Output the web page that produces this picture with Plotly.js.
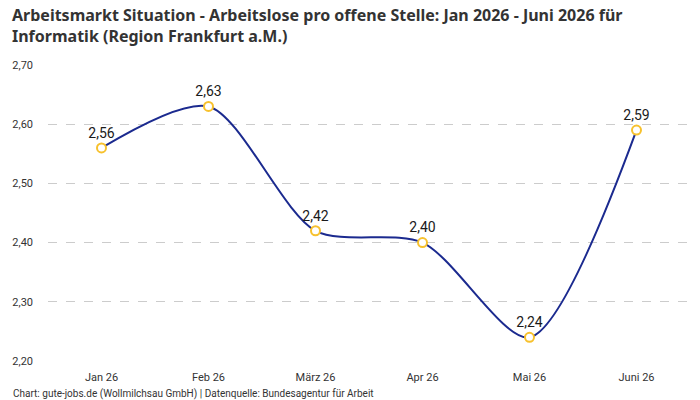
<!DOCTYPE html>
<html>
<head>
<meta charset="utf-8">
<script src="https://cdn.plot.ly/plotly-3.0.1.min.js"></script>
<style>
  html, body { margin: 0; padding: 0; background: #fff; }
  #chart { width: 700px; height: 400px; }
</style>
</head>
<body>
<div id="chart"></div>
<script>
// Monthly ratio of unemployed persons per open vacancy, IT jobs, Frankfurt region
const months = ["Jan 26", "Feb 26", "März 26", "Apr 26", "Mai 26", "Juni 26"];
const ratio = [2.56, 2.63, 2.42, 2.40, 2.24, 2.59];
const yTicks = [2.2, 2.3, 2.4, 2.5, 2.6, 2.7];

const baseFont = "Roboto, 'Noto Sans', sans-serif";
const titleText = "<b>Arbeitsmarkt Situation - Arbeitslose pro offene Stelle: Jan 2026 - Juni 2026 für<br>Informatik (Region Frankfurt a.M.)</b>";
const sourceText = "Chart: gute-jobs.de (Wollmilchsau GmbH) | Datenquelle: Bundesagentur für Arbeit";

const trace = {
  x: months,
  y: ratio,
  type: "scatter",
  mode: "lines+markers+text",
  line: { shape: "spline", smoothing: 0.8, color: "#1b2a8f", width: 2 },
  marker: { size: 9, color: "#ffffff", line: { color: "#f7c12d", width: 2 } },
  texttemplate: "%{y:.2f}",
  textposition: "top center",
  textfont: { family: baseFont, size: 14, color: "#1a1a1a" },
  cliponaxis: false,
  hoverinfo: "skip"
};

const layout = {
  width: 700,
  height: 400,
  margin: { l: 48, r: 10, t: 65, b: 39 },
  paper_bgcolor: "#ffffff",
  plot_bgcolor: "#ffffff",
  separators: ",.",
  showlegend: false,
  font: { family: baseFont, size: 11, color: "#333333" },
  xaxis: {
    type: "category",
    range: [-0.5, 5.5],
    showgrid: false,
    zeroline: false,
    showline: false,
    ticks: "",
    ticklabelstandoff: 8,
    tickfont: { family: baseFont, size: 11, color: "#333333" }
  },
  yaxis: {
    range: [2.2, 2.7],
    tickvals: yTicks,
    tickformat: ".2f",
    showgrid: true,
    gridcolor: "#cccccc",
    griddash: "dash",
    gridwidth: 1,
    zeroline: false,
    showline: false,
    ticks: "",
    ticklabelstandoff: 14,
    tickfont: { family: baseFont, size: 11, color: "#333333" }
  },
  annotations: [
    {
      text: titleText,
      xref: "paper", yref: "paper",
      x: -0.059, y: 1.212,
      xanchor: "left", yanchor: "top", align: "left",
      showarrow: false,
      font: { family: "'Noto Sans', sans-serif", size: 16, color: "#333333" }
    },
    {
      text: sourceText,
      xref: "paper", yref: "paper",
      x: -0.058, y: -0.085,
      xanchor: "left", yanchor: "top",
      showarrow: false,
      font: { family: baseFont, size: 10, color: "#333333" }
    }
  ]
};

Plotly.newPlot("chart", [trace], layout, { displayModeBar: false, staticPlot: true });
</script>
</body>
</html>
